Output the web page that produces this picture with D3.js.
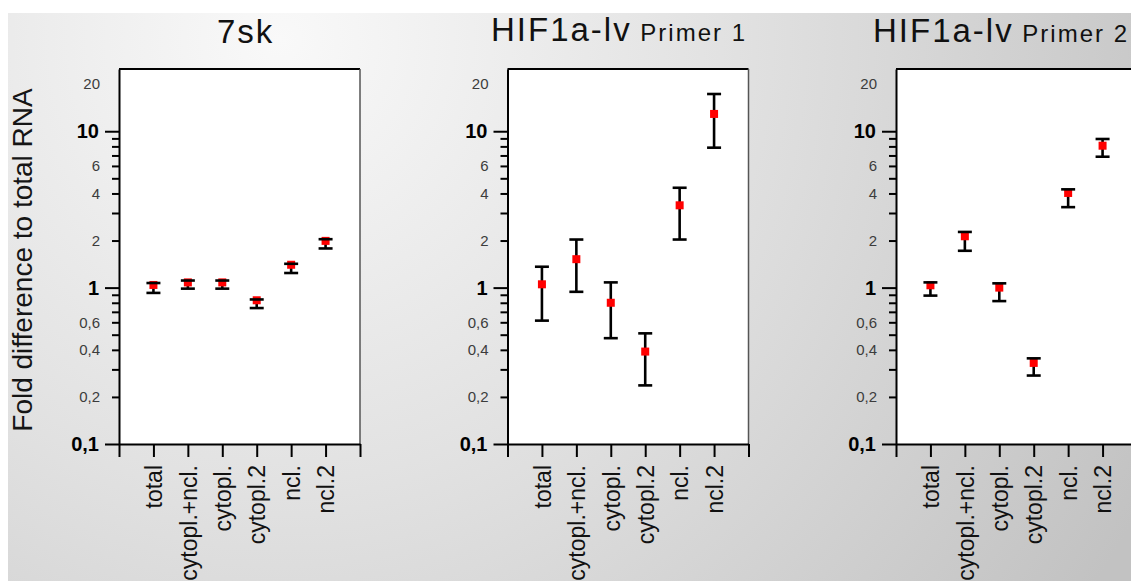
<!DOCTYPE html>
<html>
<head>
<meta charset="utf-8">
<script src="https://cdn.jsdelivr.net/npm/d3@7"></script>
<style>
  html, body { margin: 0; padding: 0; background: #ffffff; }
  svg { display: block; font-family: "Liberation Sans", Arial, sans-serif; }
</style>
</head>
<body>
<svg id="chart" width="1131" height="581"></svg>
<script>
// Sample fractions shown on every panel
const categories = ["total", "cytopl.+ncl.", "cytopl.", "cytopl.2", "ncl.", "ncl.2"];

// Panel titles: gene name and primer suffix
const titleMain = ["7sk", "HIF1a-lv", "HIF1a-lv"];
const titleSub = ["", "Primer 1", "Primer 2"];

// 7sk: mean fold difference with lower / upper error limits
const sk7Mean = [1.04, 1.08, 1.08, 0.83, 1.40, 1.99];
const sk7Low  = [0.925, 0.985, 0.985, 0.74, 1.24, 1.78];
const sk7High = [1.07, 1.11, 1.11, 0.84, 1.42, 2.04];

// HIF1a-lv, primer 1
const p1Mean = [1.05, 1.52, 0.80, 0.39, 3.36, 12.9];
const p1Low  = [0.615, 0.94, 0.475, 0.237, 2.03, 7.85];
const p1High = [1.36, 2.03, 1.08, 0.51, 4.35, 17.3];

// HIF1a-lv, primer 2
const p2Mean = [1.035, 2.13, 1.0, 0.33, 4.03, 8.08];
const p2Low  = [0.889, 1.72, 0.82, 0.274, 3.27, 6.87];
const p2High = [1.08, 2.27, 1.065, 0.353, 4.25, 8.92];

// Log axis ticks and labels
const majorTicks = [0.1, 1, 10];
const minorTicks = [0.2, 0.3, 0.4, 0.5, 0.6, 0.7, 0.8, 0.9, 2, 3, 4, 5, 6, 7, 8, 9];
const smallLabels = [0.2, 0.4, 0.6, 2, 4, 6, 20];
const yDomain = [0.1, 25];
const yAxisTitle = "Fold difference to total RNA";

const series = [
  { mean: sk7Mean, low: sk7Low, high: sk7High },
  { mean: p1Mean, low: p1Low, high: p1High },
  { mean: p2Mean, low: p2Low, high: p2High }
];

// ---- layout ----
const svg = d3.select("#chart");
const W = 1131, H = 581;
const plotTop = 69, plotBottom = 444, plotWidth = 241;
const panelLeft = [119, 507.5, 896];
const titleStart = [217, 491, 873];
const titleBaseline = [43, 41, 42];

// background with soft radial shading
const defs = svg.append("defs");
const grad = defs.append("radialGradient")
  .attr("id", "bg").attr("gradientUnits", "userSpaceOnUse")
  .attr("cx", 280).attr("cy", 40).attr("r", 980);
grad.append("stop").attr("offset", 0).attr("stop-color", "#f9f9f9");
grad.append("stop").attr("offset", 0.45).attr("stop-color", "#e2e2e2");
grad.append("stop").attr("offset", 1).attr("stop-color", "#c2c2c2");
svg.append("rect").attr("x", 8).attr("y", 13).attr("width", W - 8).attr("height", H - 13)
  .attr("fill", "url(#bg)");

const locale = d3.formatLocale({ decimal: ",", thousands: ".", grouping: [3], currency: ["", ""] });
const fmt = locale.format("~g");

const y = d3.scaleLog().domain(yDomain).range([plotBottom, plotTop]);

// y axis title
svg.append("text")
  .attr("transform", `translate(32,260) rotate(-90)`)
  .attr("text-anchor", "middle")
  .attr("font-size", 28)
  .attr("fill", "#151515")
  .text(yAxisTitle);

series.forEach((s, pi) => {
  const left = panelLeft[pi];
  const x = d3.scaleLinear().domain([0, categories.length + 1]).range([left, left + plotWidth]);
  const g = svg.append("g");

  // title
  const t = g.append("text")
    .attr("x", titleStart[pi]).attr("y", titleBaseline[pi])
    .attr("fill", "#111")
    .attr("letter-spacing", 2);
  t.append("tspan").attr("font-size", 33).text(titleMain[pi]);
  if (titleSub[pi]) t.append("tspan").attr("font-size", 24).text(" " + titleSub[pi]);

  // plot area
  g.append("rect").attr("x", left).attr("y", plotTop)
    .attr("width", plotWidth).attr("height", plotBottom - plotTop)
    .attr("fill", "#ffffff");
  g.append("line").attr("x1", left).attr("x2", left + plotWidth)
    .attr("y1", plotTop).attr("y2", plotTop)
    .attr("stroke", "#000").attr("stroke-width", 2);
  g.append("line").attr("x1", left + plotWidth).attr("x2", left + plotWidth)
    .attr("y1", plotTop).attr("y2", plotBottom)
    .attr("stroke", "#555").attr("stroke-width", 1.5);

  // y axis: minor ticks
  const yMinor = g.append("g").attr("transform", `translate(${left},0)`)
    .call(d3.axisLeft(y).tickValues(minorTicks).tickSize(7).tickSizeOuter(0).tickFormat(""));
  yMinor.select(".domain").remove();
  yMinor.selectAll("line").attr("stroke", "#000").attr("stroke-width", 2);

  // y axis: small grey labels
  const yLab = g.append("g").attr("transform", `translate(${left},0)`)
    .call(d3.axisLeft(y).tickValues(smallLabels).tickSize(0).tickPadding(19).tickFormat(fmt));
  yLab.select(".domain").remove();
  yLab.selectAll("text").attr("font-size", 15).attr("fill", "#3c3c3c");

  // y axis: major ticks with bold labels
  const yMajor = g.append("g").attr("transform", `translate(${left},0)`)
    .call(d3.axisLeft(y).tickValues(majorTicks).tickSize(14).tickSizeOuter(0).tickPadding(6).tickFormat(fmt));
  yMajor.select(".domain").attr("stroke", "#000").attr("stroke-width", 2);
  yMajor.selectAll("line").attr("stroke", "#000").attr("stroke-width", 2);
  yMajor.selectAll("text").attr("font-size", 20).attr("font-weight", "bold").attr("fill", "#000");

  // x axis
  const xAxis = g.append("g").attr("transform", `translate(0,${plotBottom})`)
    .call(d3.axisBottom(x).tickValues(d3.range(0, categories.length + 2)).tickSize(13).tickSizeOuter(0)
      .tickFormat(i => categories[i - 1] || ""));
  xAxis.select(".domain").attr("stroke", "#000").attr("stroke-width", 2);
  xAxis.selectAll("line").attr("stroke", "#000").attr("stroke-width", 2);
  xAxis.selectAll("text")
    .attr("transform", "rotate(-90)")
    .attr("text-anchor", "end")
    .attr("x", -21).attr("y", 0).attr("dy", "0.36em")
    .attr("font-size", 23).attr("fill", "#111");

  // error bars and means
  const idx = d3.range(categories.length);
  const capHalf = 7;
  g.append("g").selectAll("line").data(idx).join("line")
    .attr("x1", i => x(i + 1)).attr("x2", i => x(i + 1))
    .attr("y1", i => y(s.high[i])).attr("y2", i => y(s.low[i]))
    .attr("stroke", "#000").attr("stroke-width", 2.6);
  g.append("g").selectAll("rect").data(idx).join("rect")
    .attr("x", i => x(i + 1) - 4).attr("y", i => y(s.mean[i]) - 4)
    .attr("width", 8).attr("height", 8)
    .attr("fill", "#ff0000");
  g.append("g").selectAll("line").data(idx).join("line")
    .attr("x1", i => x(i + 1) - capHalf).attr("x2", i => x(i + 1) + capHalf)
    .attr("y1", i => y(s.high[i])).attr("y2", i => y(s.high[i]))
    .attr("stroke", "#000").attr("stroke-width", 2.6);
  g.append("g").selectAll("line").data(idx).join("line")
    .attr("x1", i => x(i + 1) - capHalf).attr("x2", i => x(i + 1) + capHalf)
    .attr("y1", i => y(s.low[i])).attr("y2", i => y(s.low[i]))
    .attr("stroke", "#000").attr("stroke-width", 2.6);
});
</script>
</body>
</html>
